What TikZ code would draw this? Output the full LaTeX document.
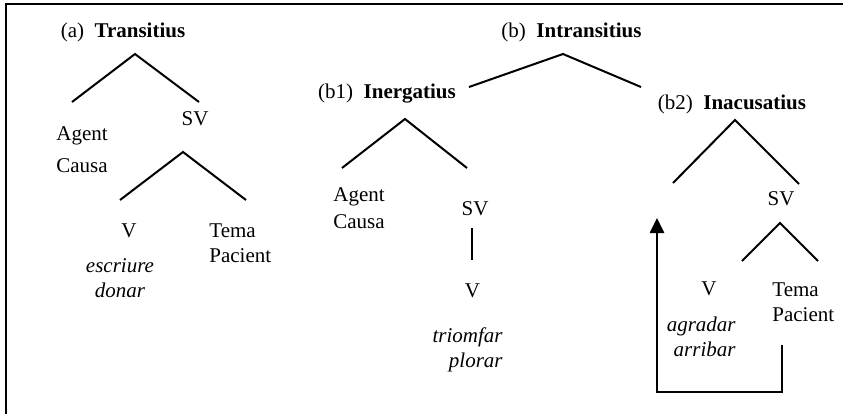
\documentclass[tikz,border=0pt]{standalone}
\usepackage{fontspec}
\setmainfont{Liberation Serif}
\usetikzlibrary{arrows.meta}

\begin{document}
\begin{tikzpicture}[x=0.5pt, y=-0.5pt,
  lbl/.style={font=\fontsize{10.5}{12.5}\selectfont, inner sep=0pt, anchor=base},
  role/.style={lbl, align=left, anchor=base west},
  verb/.style={lbl, font=\fontsize{10.5}{12.5}\selectfont\itshape},
  branch/.style={line width=1pt},
  move/.style={line width=1.3pt, -{Triangle[length=7.5pt, width=7pt]}}]
\useasboundingbox (0,0) rectangle (843,414);
\coordinate (frR) at (843,4);
\coordinate (frC) at (6,4);
\coordinate (frB) at (6,414);
\draw[line width=1.3pt] (frR) -- (frC) -- (frB);

% (a) transitive
\node[lbl] (ta) at (123,37) {(a)~~\textbf{Transitius}};
\coordinate (aTop) at (135,54);
\coordinate (aL) at (72,102);
\coordinate (aR) at (199,102);
\draw[branch] (aL) -- (aTop) -- (aR);
\node[role] (agA) at (56,172) {Agent\\[3.5pt]Causa};
\node[lbl] (svA) at (195,125) {SV};
\coordinate (svaTop) at (183,152);
\coordinate (svaL) at (120,200);
\coordinate (svaR) at (246,200);
\draw[branch] (svaL) -- (svaTop) -- (svaR);
\node[lbl] (vA) at (129,237) {V};
\node[role] (tmA) at (209,262) {Tema\\Pacient};
\node[verb, align=center] (vbA) at (120,297) {escriure\\donar};

% (b) intransitive
\node[lbl] (tb) at (571.5,37) {(b)~~\textbf{Intransitius}};
\coordinate (bTop) at (563,54);
\coordinate (bL) at (469,87);
\coordinate (bR) at (641,87);
\draw[branch] (bL) -- (bTop) -- (bR);

% (b1) unergative
\node[lbl] (tb1) at (387,98) {(b1)~~\textbf{Inergatius}};
\coordinate (b1Top) at (405,119);
\coordinate (b1L) at (342,168);
\coordinate (b1R) at (467,168);
\draw[branch] (b1L) -- (b1Top) -- (b1R);
\node[role] (agB) at (333,228) {Agent\\[1pt]Causa};
\node[lbl] (svB) at (475,215) {SV};
\coordinate (svbTop) at (472,228);
\coordinate (svbBot) at (472,260);
\draw[line width=1.3pt] (svbTop) -- (svbBot);
\node[lbl] (vB) at (472.5,297) {V};
\node[verb, align=right, anchor=base east] (vbB) at (503,367) {triomfar\\plorar};

% (b2) unaccusative
\node[lbl] (tb2) at (732,109) {(b2)~~\textbf{Inacusatius}};
\coordinate (b2Top) at (735,120);
\coordinate (b2L) at (673,183);
\coordinate (b2R) at (799,184);
\draw[branch] (b2L) -- (b2Top) -- (b2R);
\node[lbl] (svC) at (781,205) {SV};
\coordinate (svcTop) at (780,223);
\coordinate (svcL) at (742,261);
\coordinate (svcR) at (818,261);
\draw[branch] (svcL) -- (svcTop) -- (svcR);
\node[lbl] (vC) at (709,295) {V};
\node[role] (tmC) at (772,321) {Tema\\Pacient};
\node[verb, align=right, anchor=base east] (vbC) at (736,356) {agradar\\arribar};
\coordinate (mvStart) at (782,345);
\coordinate (mvEnd) at (657,218);
\draw[move] (mvStart) -- ++(0,47) -| (mvEnd);
\end{tikzpicture}
\end{document}
